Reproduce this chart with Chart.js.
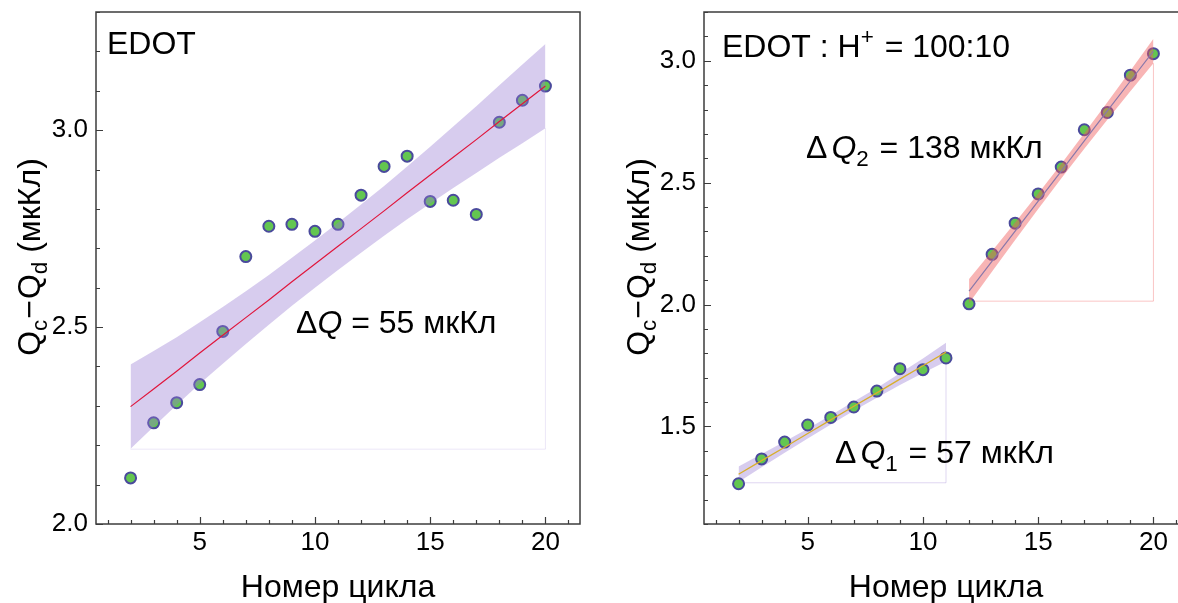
<!DOCTYPE html>
<html><head><meta charset="utf-8">
<script src="https://cdn.jsdelivr.net/npm/chart.js@4.4.1/dist/chart.umd.min.js"></script>
<style>
html,body{margin:0;padding:0;width:1178px;height:603px;overflow:hidden;background:#fff}
#w1{position:absolute;left:0;top:0;width:600px;height:603px}
#w2{position:absolute;left:600px;top:0;width:600px;height:603px}
</style></head><body>
<div id="w1"><canvas id="c1" width="600" height="603"></canvas></div>
<div id="w2"><canvas id="c2" width="600" height="603"></canvas></div>
<script>
// ---------- data ----------
const cyclesAll = [2,3,4,5,6,7,8,9,10,11,12,13,14,15,16,17,18,19,20];
const edotQ = [2.117,2.257,2.308,2.354,2.489,2.679,2.756,2.761,2.743,2.761,2.835,2.908,2.934,2.819,2.822,2.786,3.020,3.076,3.112];
const edotFit = [2.298,2.343,2.388,2.434,2.479,2.524,2.569,2.615,2.660,2.705,2.750,2.795,2.841,2.886,2.931,2.976,3.022,3.067,3.112];
const edotBandUpper = [2.405,2.439,2.474,2.512,2.551,2.591,2.632,2.676,2.720,2.765,2.811,2.858,2.908,2.958,3.009,3.061,3.114,3.167,3.219];
const edotBandLower = [2.191,2.247,2.302,2.356,2.407,2.457,2.506,2.554,2.600,2.645,2.689,2.732,2.774,2.814,2.853,2.891,2.930,2.967,3.005];
const edotCornerX = [2,20,20];
const edotCornerY = [2.19,2.19,3.005];

const hCyclesLow = [2,3,4,5,6,7,8,9,10,11];
const hQLow = [1.265,1.367,1.436,1.506,1.537,1.580,1.645,1.737,1.733,1.781];
const hFitLow = [1.304,1.360,1.415,1.471,1.527,1.583,1.638,1.694,1.749,1.805];
const hBandLowUpper = [1.336,1.387,1.438,1.491,1.546,1.602,1.658,1.718,1.779,1.843];
const hBandLowLower = [1.272,1.333,1.392,1.451,1.508,1.564,1.618,1.670,1.719,1.767];
const hCornerLowX = [2,11,11];
const hCornerLowY = [1.269,1.269,1.767];

const hCyclesHigh = [12,13,14,15,16,17,18,19,20];
const hQHigh = [2.003,2.206,2.334,2.454,2.564,2.717,2.788,2.941,3.029];
const hFitHigh = [2.055,2.178,2.301,2.424,2.547,2.671,2.794,2.917,3.040];
const hBandHighUpper = [2.105,2.220,2.337,2.456,2.577,2.703,2.830,2.959,3.090];
const hBandHighLower = [2.005,2.136,2.265,2.392,2.517,2.639,2.758,2.875,2.990];
const hCornerHighX = [12,20,20];
const hCornerHighY = [2.014,2.014,2.990];

const xTickLabels = [5,10,15,20];
const yTicksLeft = [2.0,2.5,3.0];
const yTicksRight = [1.5,2.0,2.5,3.0];

// ---------- helpers ----------
const FF = '"Liberation Sans", Arial, sans-serif';
const pts = (xs, ys) => xs.map((x,i)=>({x:x, y:ys[i]}));

function richWidth(ctx, parts, size){
  let w = 0;
  for (const p of parts){
    const fs = (p.sub||p.sup) ? size*0.7 : size;
    ctx.font = (p.it?'italic ':'') + fs + 'px ' + FF;
    w += ctx.measureText(p.t).width + (p.gap||0);
  }
  return w;
}
function rich(ctx, parts, x, y, size){
  let cx = x;
  ctx.textBaseline = 'alphabetic';
  ctx.textAlign = 'left';
  for (const p of parts){
    const fs = (p.sub||p.sup) ? size*0.7 : size;
    ctx.font = (p.it?'italic ':'') + fs + 'px ' + FF;
    const dy = p.sub ? size*0.24 : (p.sup ? -size*0.42 : 0);
    ctx.fillText(p.t, cx, y+dy);
    cx += ctx.measureText(p.t).width + (p.gap||0);
  }
}

const yTitleParts = [{t:'Q'},{t:'c',sub:true,gap:1},{t:'\u2212',gap:1},{t:'Q'},{t:'d',sub:true},{t:' (мкКл)'}];
const xTitle = 'Номер цикла';

function makeDecor(opts){
  return {
    id: 'decor',
    afterDraw(chart){
      const {ctx, chartArea:a, scales:{x, y}} = chart;
      ctx.save();
      // frame
      ctx.strokeStyle = '#3c3c3c';
      ctx.lineWidth = 1.5;
      ctx.strokeRect(a.left, a.top, a.right-a.left, a.bottom-a.top);
      // inward ticks
      ctx.lineWidth = 1.2;
      ctx.beginPath();
      for (let v = Math.ceil(x.min); v <= x.max; v++){
        const px = Math.round(x.getPixelForValue(v))+0.5;
        const len = (v % 5 === 0) ? 7 : 4;
        ctx.moveTo(px, a.bottom); ctx.lineTo(px, a.bottom-len);
      }
      for (let k = Math.ceil(y.min*10-1e-6); k <= Math.floor(y.max*10+1e-6); k++){
        const py = Math.round(y.getPixelForValue(k/10))+0.5;
        const len = (k % 5 === 0) ? 7 : 4;
        ctx.moveTo(a.left, py); ctx.lineTo(a.left+len, py);
      }
      ctx.stroke();
      ctx.fillStyle = '#000';
      // x title
      ctx.font = '32px ' + FF;
      ctx.textAlign = 'center';
      ctx.textBaseline = 'alphabetic';
      ctx.fillText(xTitle, (a.left+a.right)/2, 597);
      // y title (rotated)
      ctx.save();
      ctx.translate(opts.yTitleX, opts.yTitleY);
      ctx.rotate(-Math.PI/2);
      const w = richWidth(ctx, yTitleParts, 32);
      rich(ctx, yTitleParts, -w/2, 11.5, 32);
      ctx.restore();
      // annotations
      for (const an of opts.notes){
        rich(ctx, an.parts, an.x, an.y, 32);
      }
      ctx.restore();
    }
  };
}

function zeroPad(s){ s.paddingTop = 0; s.paddingBottom = 0; s.paddingLeft = 0; s.paddingRight = 0; }

function baseOptions(yMin, yMax, yTicks, padRight, yAxisW){
  return {
    responsive: false,
    devicePixelRatio: 1,
    animation: false,
    layout: {padding: {left: 0, top: 12, right: padRight, bottom: 0}},
    plugins: {legend: {display: false}, tooltip: {enabled: false}},
    scales: {
      x: {
        type: 'linear', min: 0.5, max: 21.5,
        grid: {display: false, drawTicks: false},
        border: {display: false},
        ticks: {font: {size: 26, family: FF}, color: '#000', padding: 3, maxRotation: 0},
        afterBuildTicks: s => { s.ticks = xTickLabels.map(v => ({value: v})); },
        afterFit: s => { s.height = 79; zeroPad(s); }
      },
      y: {
        type: 'linear', min: yMin, max: yMax,
        grid: {display: false, drawTicks: false},
        border: {display: false},
        ticks: {font: {size: 26, family: FF}, color: '#000', padding: 8,
                callback: v => Number(v).toFixed(1)},
        afterBuildTicks: s => { s.ticks = yTicks.map(v => ({value: v})); },
        afterFit: s => { s.width = yAxisW; zeroPad(s); }
      }
    }
  };
}

const PT_FILL = '#63c650';
const PT_BORDER = '#4a4a9c';
const LAV = 'rgba(150,120,210,0.38)';
const PINK = 'rgba(240,90,90,0.45)';

const lineDs = (data, color, w) => ({data, showLine: true, borderColor: color, borderWidth: w, pointRadius: 0, fill: false});
const bandTop = (data, color) => ({data, showLine: true, borderWidth: 0, borderColor: 'rgba(0,0,0,0)', pointRadius: 0, fill: '+1', backgroundColor: color});
const bandBot = (data) => ({data, showLine: true, borderWidth: 0, borderColor: 'rgba(0,0,0,0)', pointRadius: 0, fill: false});
const pointDs = (data) => ({data, showLine: false, pointRadius: 5.5, pointBorderWidth: 2, pointBackgroundColor: PT_FILL, pointBorderColor: PT_BORDER});

// ---------- left chart: EDOT ----------
new Chart(document.getElementById('c1'), {
  type: 'scatter',
  data: {datasets: [
    lineDs(pts(cyclesAll, edotFit), '#e0163c', 1.2),
    bandTop(pts(cyclesAll, edotBandUpper), LAV),
    bandBot(pts(cyclesAll, edotBandLower)),
    lineDs(pts(edotCornerX, edotCornerY), 'rgba(150,120,210,0.18)', 1),
    pointDs(pts(cyclesAll, edotQ))
  ]},
  options: baseOptions(2.0, 3.3, yTicksLeft, 20, 96),
  plugins: [makeDecor({
    yTitleX: 28, yTitleY: 257,
    notes: [
      {x: 107, y: 54, parts: [{t:'EDOT'}]},
      {x: 296, y: 333, parts: [{t:'Δ'},{t:'Q',it:true},{t:' = 55 мкКл'}]}
    ]
  })]
});

// ---------- right chart: EDOT : H+ = 100:10 ----------
new Chart(document.getElementById('c2'), {
  type: 'scatter',
  data: {datasets: [
    lineDs(pts(hCyclesHigh, hFitHigh), '#8a78aa', 1.2),
    bandTop(pts(hCyclesHigh, hBandHighUpper), PINK),
    bandBot(pts(hCyclesHigh, hBandHighLower)),
    lineDs(pts(hCyclesLow, hFitLow), '#d8ae2c', 1.3),
    pointDs(pts(hCyclesLow.concat(hCyclesHigh), hQLow.concat(hQHigh))),
    bandTop(pts(hCyclesLow, hBandLowUpper), LAV),
    bandBot(pts(hCyclesLow, hBandLowLower)),
    lineDs(pts(hCornerHighX, hCornerHighY), 'rgba(240,90,90,0.35)', 1),
    lineDs(pts(hCornerLowX, hCornerLowY), 'rgba(150,120,210,0.3)', 1)
  ]},
  options: baseOptions(1.1, 3.2, yTicksRight, 12, 104),
  plugins: [makeDecor({
    yTitleX: 37, yTitleY: 257,
    notes: [
      {x: 122, y: 57, parts: [{t:'EDOT : H'},{t:'+',sup:true,gap:2},{t:' = 100:10'}]},
      {x: 206, y: 158, parts: [{t:'Δ',gap:4},{t:'Q',it:true},{t:'2',sub:true,gap:2},{t:' = 138 мкКл'}]},
      {x: 235, y: 463, parts: [{t:'Δ',gap:4},{t:'Q',it:true},{t:'1',sub:true,gap:2},{t:' = 57 мкКл'}]}
    ]
  })]
});
</script>
</body></html>
